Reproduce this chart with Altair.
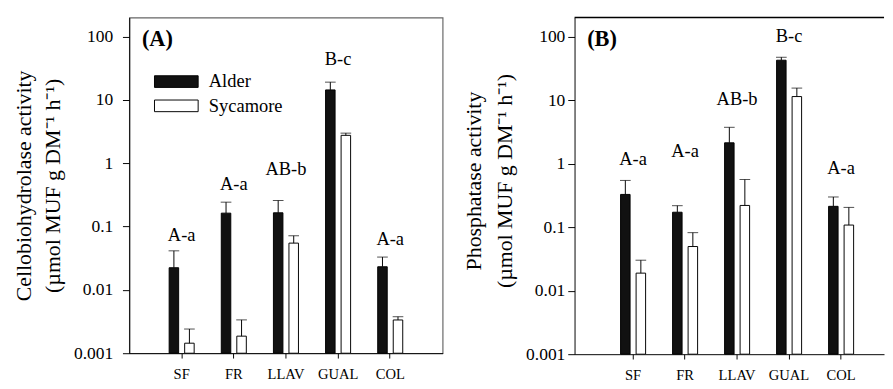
import altair as alt
import pandas as pd

sites = ["SF", "FR", "LLAV", "GUAL", "COL"]
species = ["Alder", "Sycamore"]
species_colors = ["#111111", "#ffffff"]

# Panel A: cellobiohydrolase (mean and SE)
cello_alder = [0.0224, 0.163, 0.165, 14.4, 0.0232]
cello_alder_se = [0.019, 0.080, 0.093, 4.7, 0.0098]
cello_syc = [0.00144, 0.00186, 0.0548, 2.76, 0.00335]
cello_syc_se = [0.00097, 0.0015, 0.0168, 0.23, 0.00042]
cello_letters = ["A-a", "A-a", "AB-b", "B-c", "A-a"]
cello_letter_y = [0.0733, 0.474, 0.804, 44.5, 0.0637]

# Panel B: phosphatase (mean and SE)
phos_alder = [0.328, 0.172, 2.13, 42.6, 0.213]
phos_alder_se = [0.217, 0.046, 1.61, 4.8, 0.086]
phos_syc = [0.0189, 0.0496, 0.22, 11.4, 0.108]
phos_syc_se = [0.0113, 0.0324, 0.344, 4.1, 0.097]
phos_letters = ["A-a", "A-a", "AB-b", "B-c", "A-a"]
phos_letter_y = [1.18, 1.55, 10.2, 100.7, 0.862]

y_ticks = [0.001, 0.01, 0.1, 1, 10, 100]

FONT = "Liberation Serif"


def make_df(alder, alder_se, syc, syc_se):
    rows = []
    for i, s in enumerate(sites):
        rows.append({"site": s, "species": "Alder", "mean": alder[i], "top": alder[i] + alder_se[i]})
        rows.append({"site": s, "species": "Sycamore", "mean": syc[i], "top": syc[i] + syc_se[i]})
    return pd.DataFrame(rows)


def legend_layers():
    out = []
    for k, (sp, col) in enumerate(zip(species, species_colors)):
        d = pd.DataFrame({"species": [sp]})
        top = 60 + 25 * k
        out.append(alt.Chart(d).mark_rect(fill=col, stroke="black", strokeWidth=1).encode(
            x=alt.value(26), x2=alt.value(71), y=alt.value(top), y2=alt.value(top + 12)))
        out.append(alt.Chart(d).mark_text(font=FONT, fontSize=19, align="left", baseline="middle",
                                          color="black").encode(
            x=alt.value(82), y=alt.value(top + 6), text="species:N"))
    return out


def panel(df, letters, letter_y, title_lines, plabel, width, height, p_outer, x_align,
          label_pad, title_pad, line_h, title_y, show_legend, frame):
    xsc = alt.Scale(paddingInner=0.52, paddingOuter=p_outer, align=x_align)
    xenc = alt.X("site:N", sort=sites, scale=xsc,
                 axis=alt.Axis(title=None, labelAngle=0, labelFontSize=15, tickSize=5,
                               labelPadding=9, domainColor="black", tickColor="black",
                               labelFont=FONT, labelColor="black"))
    xoff = alt.XOffset("species:N", sort=species,
                       scale=alt.Scale(paddingInner=0.3875, paddingOuter=0))
    ysc = alt.Scale(type="log", domain=[0.001, 200], nice=False, clamp=True)
    yaxis = alt.Axis(title=title_lines, values=y_ticks, format="~g", grid=False,
                     tickSize=7, labelPadding=label_pad, labelFontSize=18,
                     labelFont=FONT, labelColor="black", titleFont=FONT, titleColor="black",
                     titleFontSize=22.5, titleFontWeight="normal", titleLineHeight=line_h,
                     titlePadding=title_pad, titleY=title_y,
                     domainColor="black", tickColor="black")
    base = alt.Chart(df)
    bars = base.mark_bar(stroke="black", strokeWidth=1).encode(
        x=xenc, xOffset=xoff,
        y=alt.Y("mean:Q", scale=ysc, axis=yaxis, stack=None),
        y2=alt.datum(0.001),
        fill=alt.Fill("species:N", sort=species,
                      scale=alt.Scale(domain=species, range=species_colors),
                      legend=None),
    )
    rules = base.mark_rule(color="black", strokeWidth=1).encode(
        x=alt.X("site:N", sort=sites), xOffset=alt.XOffset("species:N", sort=species),
        y="mean:Q", y2="top:Q")
    caps = base.mark_tick(color="black", size=11, thickness=1).encode(
        x=alt.X("site:N", sort=sites), xOffset=alt.XOffset("species:N", sort=species),
        y="top:Q")
    lab = pd.DataFrame({"site": sites, "lab": letters, "ly": letter_y})
    text = alt.Chart(lab).mark_text(font=FONT, fontSize=19, baseline="middle", color="black").encode(
        x=alt.X("site:N", sort=sites), y="ly:Q", text="lab:N")
    pl = alt.Chart(pd.DataFrame({"t": [plabel]})).mark_text(
        font=FONT, fontSize=23, fontWeight="bold", align="left", baseline="middle", color="black"
    ).encode(x=alt.value(13), y=alt.value(22), text="t:N")
    layers = [bars, rules, caps, text, pl]
    if show_legend:
        layers += legend_layers()
    if frame:
        view = alt.ViewBackground(stroke="#666666", strokeWidth=1.2)
        # invisible spacer: panel A's frame sits a few pixels lower than panel B's
        spacer = alt.Chart(pd.DataFrame({"t": [0]})).mark_rule(strokeOpacity=0, opacity=0).encode(
            x=alt.value(0), y=alt.value(-3), y2=alt.value(0))
        layers.append(spacer)
    else:
        # only the top edge of the frame is visible in this panel
        top_edge = alt.Chart(pd.DataFrame({"t": [0]})).mark_rule(color="black", strokeWidth=1.5).encode(
            x=alt.value(0), x2=alt.value(width), y=alt.value(0))
        layers.append(top_edge)
        view = alt.ViewBackground(stroke=None)
    return alt.layer(*layers).properties(width=width, height=height, view=view)


dfA = make_df(cello_alder, cello_alder_se, cello_syc, cello_syc_se)
dfB = make_df(phos_alder, phos_alder_se, phos_syc, phos_syc_se)

A = panel(dfA, cello_letters, cello_letter_y,
          ["Cellobiohydrolase activity", "(µmol MUF g DM⁻¹ h⁻¹)"], "(A)",
          323, 346, 0.7647, 0.5, 10, 9, 30, 173, True, True)
B = panel(dfB, phos_letters, phos_letter_y,
          ["Phosphatase activity", "(µmol MUF g DM⁻¹ h⁻¹)"], "(B)",
          319, 347, 0.7356, 0.6015, 3, 9, 32, 168, False, False)

chart = alt.hconcat(A, B, spacing=20).resolve_scale(
    fill="independent", x="independent", y="independent"
).properties(
    padding={"left": 4, "top": 0, "right": 0, "bottom": 0},
    background="white",
).configure(font=FONT).configure_axis(
    labelFont=FONT, titleFont=FONT, labelColor="black", titleColor="black"
)

chart.save("out.html", embed_options={"renderer": "svg", "actions": False})
